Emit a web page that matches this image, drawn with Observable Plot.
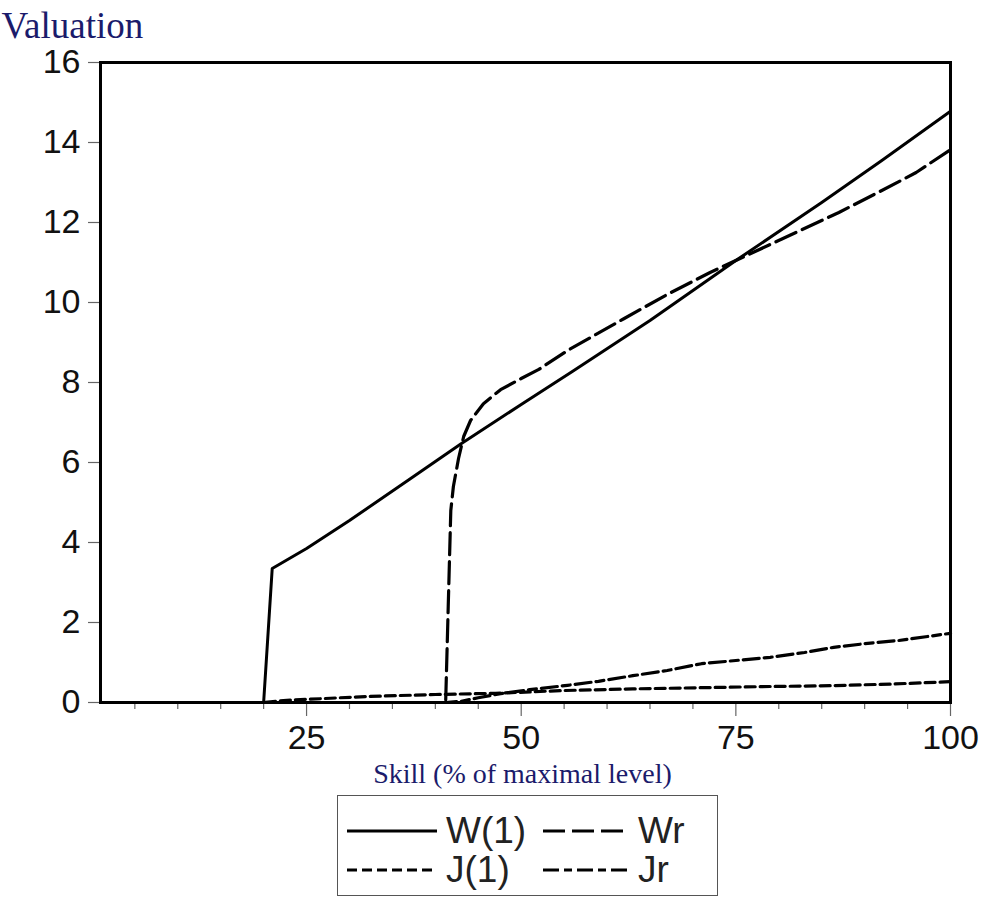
<!DOCTYPE html>
<html><head><meta charset="utf-8">
<script src="https://cdn.jsdelivr.net/npm/d3@7"></script>
<script src="https://cdn.jsdelivr.net/npm/@observablehq/plot@0.6"></script>
<style>
body{margin:0;background:#fff;}
#chart{position:absolute;left:0;top:0;}
#legend{position:absolute;left:337px;top:795px;width:381px;height:101px;border:1.5px solid #555;box-sizing:border-box;font-family:"Liberation Sans",Arial,sans-serif;font-size:37px;color:#222;}
#legend .item{position:absolute;display:flex;align-items:center;height:40px;}
#legend svg{display:block;}
#legend span{margin-left:9px;line-height:40px;}
</style></head><body>
<div id="chart"></div><div id="legend"></div>
<script>
// ---- data ----
const seriesNames = ["W(1)", "Wr", "J(1)", "Jr"];
const w1X = [1, 20, 21, 25, 30, 37, 43, 50, 56, 65, 75, 85, 92, 100];
const w1Y = [0, 0, 3.35, 3.85, 4.55, 5.58, 6.47, 7.45, 8.28, 9.55, 11.05, 12.5, 13.55, 14.78];
const wrX = [1, 41.2, 41.5, 41.8, 42.1, 42.7, 43.3, 44.1, 45.6, 47.6, 50, 52, 55.4, 62, 67, 72, 76, 82, 87, 92, 96, 100];
const wrY = [0, 0, 2.4, 4.8, 5.4, 6.1, 6.65, 7.05, 7.47, 7.82, 8.1, 8.32, 8.8, 9.6, 10.2, 10.75, 11.15, 11.75, 12.25, 12.8, 13.25, 13.82];
const j1X = [1, 20, 22.3, 32, 40, 47, 55, 63, 71, 79, 86, 93, 100];
const j1Y = [0, 0, 0.05, 0.15, 0.2, 0.23, 0.3, 0.34, 0.37, 0.4, 0.42, 0.46, 0.52];
const jrX = [1, 41.2, 43, 45, 47.6, 51, 55.4, 59, 63, 67, 71, 75, 79, 83, 86.4, 90, 94, 100];
const jrY = [0, 0, 0.03, 0.12, 0.22, 0.32, 0.43, 0.53, 0.67, 0.8, 0.97, 1.05, 1.13, 1.25, 1.38, 1.47, 1.55, 1.73];
const xMajorTicks = [25, 50, 75, 100];
const xMinorTicks = [5, 10, 15, 20, 30, 35, 40, 45, 55, 60, 65, 70, 80, 85, 90, 95];
const yTicks = [0, 2, 4, 6, 8, 10, 12, 14, 16];
const xTitle = "Skill (% of maximal level)";
const yTitle = "Valuation";

// ---- styles ----
const dashes = {"W(1)": null, "Wr": "22,7", "J(1)": "10,5", "Jr": "16,5,8,5"};
const widths = {"W(1)": 3, "Wr": 3.2, "J(1)": 3.2, "Jr": 3.2};

const toRows = (xs, ys) => xs.map((x, i) => ({x, y: ys[i]}));
const data = {
  "W(1)": toRows(w1X, w1Y),
  "Wr": toRows(wrX, wrY),
  "J(1)": toRows(j1X, j1Y),
  "Jr": toRows(jrX, jrY)
};

const lineMarks = seriesNames.map(s => Plot.line(data[s], {
  x: "x", y: "y", stroke: "black", strokeWidth: widths[s],
  strokeDasharray: dashes[s] || undefined, strokeLinejoin: "round"
}));

const plot = Plot.plot({
  width: 986,
  height: 792,
  marginLeft: 100,
  marginRight: 36,
  marginTop: 62,
  marginBottom: 90,
  style: {fontFamily: '"Liberation Sans", Arial, sans-serif', background: "#fff", color: "#111"},
  x: {domain: [1, 100]},
  y: {domain: [0, 16]},
  marks: [
    Plot.axisY({ticks: yTicks, tickSize: 12, tickPadding: 8, fontSize: 34, stroke: "#666", strokeWidth: 1.2, label: null, tickFormat: d => String(d)}),
    Plot.axisX({ticks: xMinorTicks, tickSize: 7, tickPadding: 0, stroke: "#666", strokeWidth: 1.2, label: null, tickFormat: () => ""}),
    Plot.axisX({ticks: xMajorTicks, tickSize: 14, tickPadding: 8, fontSize: 34, stroke: "#666", strokeWidth: 1.2, label: null, tickFormat: d => String(d)}),
    ...lineMarks,
    Plot.frame({stroke: "black", strokeWidth: 3}),
    Plot.text([yTitle], {frameAnchor: "top-left", text: d => d, dx: -99, dy: -25, textAnchor: "start", lineAnchor: "bottom",
      fontSize: 37, fontFamily: '"Liberation Serif", "Times New Roman", serif', fill: "#1b1b6b"}),
    Plot.text([xTitle], {frameAnchor: "bottom", text: d => d, dx: -3, dy: 80, textAnchor: "middle", lineAnchor: "bottom",
      fontSize: 28, fontFamily: '"Liberation Serif", "Times New Roman", serif', fill: "#1b1b6b"})
  ]
});
document.getElementById("chart").appendChild(plot);

// ---- legend ----
const legendPos = {
  "W(1)": {left: 9, top: 15, w: 90},
  "Wr": {left: 205, top: 15, w: 86},
  "J(1)": {left: 9, top: 54, w: 90},
  "Jr": {left: 205, top: 54, w: 86}
};
const legend = d3.select("#legend");
seriesNames.forEach(s => {
  const p = legendPos[s];
  const item = legend.append("div").attr("class", "item")
    .style("left", p.left + "px").style("top", p.top + "px");
  const svg = item.append("svg").attr("width", p.w).attr("height", 10);
  svg.append("line").attr("x1", 0).attr("x2", p.w).attr("y1", 5).attr("y2", 5)
    .attr("stroke", "black").attr("stroke-width", 3)
    .attr("stroke-dasharray", dashes[s]);
  item.append("span").text(s);
});
</script>
</body></html>
